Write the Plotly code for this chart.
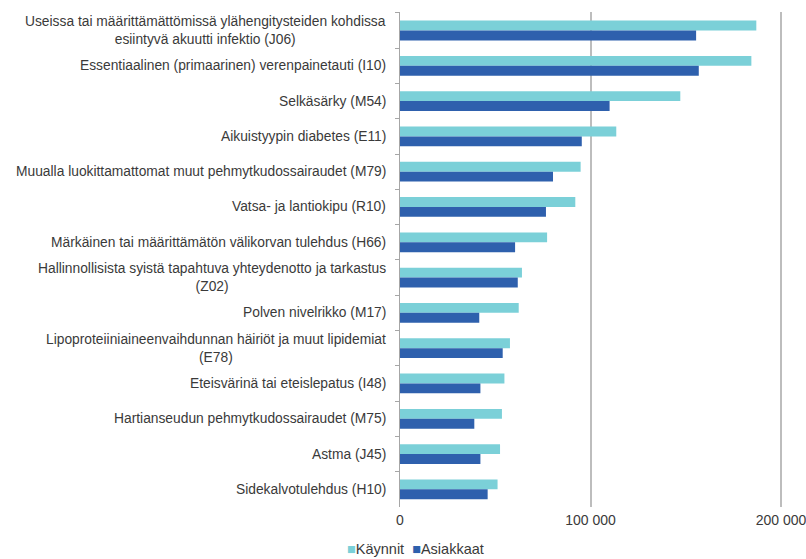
import plotly.graph_objects as go

categories = [
    "Useissa tai määrittämättömissä ylähengitysteiden kohdissa<br>esiintyvä akuutti infektio (J06)",
    "Essentiaalinen (primaarinen) verenpainetauti (I10)",
    "Selkäsärky (M54)",
    "Aikuistyypin diabetes (E11)",
    "Muualla luokittamattomat muut pehmytkudossairaudet (M79)",
    "Vatsa- ja lantiokipu (R10)",
    "Märkäinen tai määrittämätön välikorvan tulehdus (H66)",
    "Hallinnollisista syistä tapahtuva yhteydenotto ja tarkastus<br>(Z02)",
    "Polven nivelrikko (M17)",
    "Lipoproteiiniaineenvaihdunnan häiriöt ja muut lipidemiat<br>(E78)",
    "Eteisvärinä tai eteislepatus (I48)",
    "Hartianseudun pehmytkudossairaudet (M75)",
    "Astma (J45)",
    "Sidekalvotulehdus (H10)",
]
kaynnit = [187000, 184400, 147100, 113500, 94800, 92000, 77200,
           64000, 62300, 57700, 54800, 53500, 52500, 51200]
asiakkaat = [155400, 156800, 110000, 95400, 80300, 76600, 60400,
             61800, 41600, 53900, 42200, 39000, 42200, 46000]
tick_vals = [0, 100000, 200000]
tick_text = ["0", "100 000", "200 000"]

series_names = ["Käynnit", "Asiakkaat"]
series_colors = ["#7BD0D8", "#2E60AD"]

FONT = "Liberation Sans, Arial, sans-serif"
TEXT = "#3a3a3a"

fig = go.Figure()
for name, vals, col in zip(series_names, [kaynnit, asiakkaat], series_colors):
    fig.add_trace(go.Bar(y=categories, x=vals, orientation="h", name=name,
                         marker=dict(color=col, line=dict(width=0))))

# category labels, centred line by line, sitting left of the axis
for c in categories:
    fig.add_annotation(x=0, y=c, xref="x", yref="y", text=c, showarrow=False,
                       xanchor="right", yanchor="middle", align="center",
                       xshift=-12, font=dict(family=FONT, size=13.8, color=TEXT))

# compact legend below the axis
legend_text = "  ".join(
    f"<span style='color:{col}'>■</span>{name}"
    for name, col in zip(series_names, series_colors)
)
L, R, T, B = 400, 23, 12, 52
plot_w = 806 - L - R
plot_h = 559 - T - B
fig.add_annotation(x=(415 - L) / plot_w, y=-(549 - (559 - B)) / plot_h,
                   xref="paper", yref="paper", text=legend_text,
                   showarrow=False, xanchor="center", yanchor="middle",
                   font=dict(family=FONT, size=14.5, color=TEXT))

fig.update_layout(
    width=806, height=559,
    margin=dict(l=L, r=R, t=T, b=B, autoexpand=False),
    paper_bgcolor="white", plot_bgcolor="white",
    barmode="group", bargap=0.44, bargroupgap=0,
    font=dict(family=FONT, size=13, color=TEXT),
    showlegend=False,
    xaxis=dict(range=[0, 201000], tickvals=tick_vals, ticktext=tick_text,
               showgrid=True, gridcolor="#bdbdbd", gridwidth=1.5,
               zeroline=False, showline=False, ticks="", automargin=False,
               ticklabeloverflow="allow", ticklabelstandoff=3,
               tickfont=dict(family=FONT, size=14, color=TEXT)),
    yaxis=dict(autorange="reversed", showticklabels=False, showgrid=False,
               showline=True, linecolor="#a6a6a6", linewidth=1,
               ticks="outside", ticklen=4, tickcolor="#a6a6a6",
               tickson="boundaries", zeroline=False, automargin=False),
)

fig.write_html("out.html")
